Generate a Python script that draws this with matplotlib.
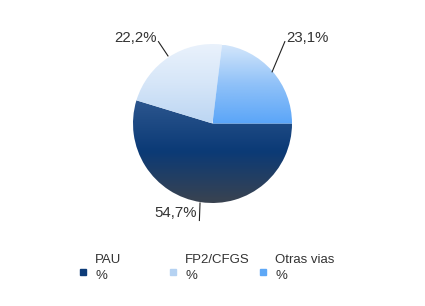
import numpy as np
import matplotlib.pyplot as plt
from matplotlib.colors import LinearSegmentedColormap
from matplotlib.patches import Rectangle

categories = ['PAU', 'FP2/CFGS', 'Otras vias']
values = [54.7, 22.2, 23.1]
# gradient stops per slice, top -> bottom
grad_colors = [
    ['#2c568e', '#0b3a76', '#3a4350'],
    ['#eaf2fc', '#d6e6f8', '#bcd6f3'],
    ['#d3e6fb', '#8fc1f8', '#5aa5f8'],
]
legend_colors = ['#0d3b78', '#b5d2f2', '#5ea8f6']

plt.rcParams['font.family'] = ['Liberation Sans', 'DejaVu Sans']

W, H = 425, 306
fig = plt.figure(figsize=(W / 100, H / 100), dpi=100)
cx, cy, r = 212.5, 306 - 123.5, 79.5
ax = fig.add_axes([(cx - r) / W, (cy - r) / H, 2 * r / W, 2 * r / H])

wedges, _ = ax.pie(values, startangle=0, counterclock=False, radius=1,
                   wedgeprops=dict(linewidth=0))

for w, cols in zip(wedges, grad_colors):
    w.set_facecolor('none')
    bb = w.get_path().get_extents(w.get_patch_transform())
    cmap = LinearSegmentedColormap.from_list('g', cols)
    grad = np.linspace(0, 1, 256).reshape(-1, 1)
    im = ax.imshow(grad, cmap=cmap, aspect='auto', origin='upper',
                   extent=[bb.x0, bb.x1, bb.y0, bb.y1], zorder=1)
    im.set_clip_path(w)
ax.set_xlim(-1, 1)
ax.set_ylim(-1, 1)
ax.set_aspect('equal')
ax.axis('off')

labels = [f'{v:.1f}%'.replace('.', ',') for v in values]
# leader lines: (edge point, elbow point, text position, alignment)
lead = [
    ((-0.157, -1.0), (-0.165, -1.22), (-0.20, -1.12), 'right'),
    ((-0.56, 0.85), (-0.68, 1.03), (-0.70, 1.075), 'right'),
    ((0.75, 0.65), (0.91, 1.03), (0.93, 1.075), 'left'),
]
for lab, (p0, p1, tp, ha) in zip(labels, lead):
    ax.plot([p0[0], p1[0]], [p0[1], p1[1]], color='#222222', lw=0.8,
            clip_on=False, zorder=3)
    ax.text(tp[0], tp[1], lab, ha=ha, va='center', fontsize=10.8,
            color='#333333', clip_on=False)

# legend
lx = [80, 170, 260]
for x, c, name in zip(lx, legend_colors, categories):
    fig.patches.append(Rectangle((x / W, (H - 275) / H), 6 / W, 6 / H,
                                 transform=fig.transFigure, color=c))
    fig.text((x + 15) / W, (H - 260) / H, name, fontsize=9.5,
             color='#333333', va='center')
    fig.text((x + 15) / W, (H - 276) / H, '%', fontsize=9.5,
             color='#333333', va='center')

fig.savefig('out.png', dpi=100, facecolor='white')
